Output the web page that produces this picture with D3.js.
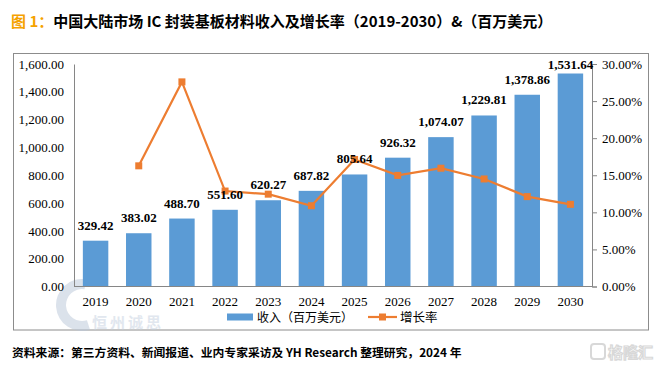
<!DOCTYPE html>
<html>
<head>
<meta charset="utf-8">
<script src="https://cdn.jsdelivr.net/npm/d3@7/dist/d3.min.js"></script>
<style>
  html, body { margin: 0; padding: 0; background: #fff; }
  svg { display: block; }
</style>
</head>
<body>
<svg id="chart" width="664" height="368"></svg>
<script>
const years = ['2019','2020','2021','2022','2023','2024','2025','2026','2027','2028','2029','2030'];
const revenue = [329.42, 383.02, 488.70, 551.60, 620.27, 687.82, 805.64, 926.32, 1074.07, 1229.81, 1378.86, 1531.64];
const growth = [null, 16.27, 27.59, 12.87, 12.45, 10.89, 17.13, 14.98, 15.95, 14.50, 12.12, 11.08];
const leftTicks = [0, 200, 400, 600, 800, 1000, 1200, 1400, 1600];
const rightTicks = [0, 5, 10, 15, 20, 25, 30];
const seriesNames = ['收入（百万美元）', '增长率'];

const svg = d3.select('#chart');
const serif = '"Liberation Serif", "Times New Roman", serif';
const cjk = '"Noto Sans CJK SC", sans-serif';
const blue = '#5B9BD5', orange = '#ED7D31', axisCol = '#868686';

// title
const title = svg.append('text').attr('x', 11).attr('y', 27)
  .attr('font-family', cjk).attr('font-size', 15).attr('font-weight', 700);
title.append('tspan').attr('fill', '#F5A200').text('图 1：');
title.append('tspan').attr('fill', '#000').text('中国大陆市场 IC 封装基板材料收入及增长率（2019-2030）&（百万美元）');

// frame
svg.append('rect').attr('x', 13.5).attr('y', 53.5).attr('width', 635).attr('height', 276.5)
  .attr('fill', 'none').attr('stroke', '#8c8c8c').attr('stroke-width', 1);

// watermark (left)
const wm = svg.append('g').attr('opacity', 0.5);
wm.append('path').attr('d', d3.arc()({innerRadius: 16, outerRadius: 26, startAngle: Math.PI * 0.9, endAngle: Math.PI * 2.05}))
  .attr('transform', 'translate(82,305)').attr('fill', '#b9c6d9');
wm.append('text').attr('x', 92).attr('y', 328).attr('font-family', cjk).attr('font-size', 15)
  .attr('font-weight', 700).attr('fill', '#c5d0e0').attr('letter-spacing', 3).text('恒州诚思');

const x = d3.scaleBand().domain(years).range([74, 592]).paddingInner(0.41).paddingOuter(0.205);
const yL = d3.scaleLinear().domain([0, 1600]).range([286.5, 64]);
const yR = d3.scaleLinear().domain([0, 30]).range([286.5, 64]);

// bars
svg.append('g').selectAll('rect').data(years).join('rect')
  .attr('x', d => x(d)).attr('width', x.bandwidth())
  .attr('y', (d, i) => yL(revenue[i])).attr('height', (d, i) => yL(0) - yL(revenue[i]))
  .attr('fill', blue);

// axes
const gl = svg.append('g').attr('transform', 'translate(74,0)')
  .call(d3.axisLeft(yL).tickValues(leftTicks).tickSize(0).tickPadding(10).tickFormat(d3.format(',.2f')));
const gr = svg.append('g').attr('transform', 'translate(592,0)')
  .call(d3.axisRight(yR).tickValues(rightTicks).tickSize(5).tickPadding(5).tickFormat(d => d.toFixed(2) + '%'));
const gb = svg.append('g').attr('transform', 'translate(0,286.5)')
  .call(d3.axisBottom(x).tickSize(0).tickPadding(10));
[gl, gr, gb].forEach(g => {
  g.selectAll('path.domain').attr('stroke', axisCol);
  g.selectAll('.tick line').attr('stroke', axisCol);
  g.selectAll('text').attr('font-family', serif).attr('font-size', 13).attr('fill', '#000');
});
gb.select('path.domain').attr('d', 'M74,0H592');

// line
const pts = years.map((d, i) => ({ year: d, v: growth[i] })).filter(p => p.v != null);
svg.append('path').datum(pts)
  .attr('d', d3.line().x(p => x(p.year) + x.bandwidth() / 2).y(p => yR(p.v)))
  .attr('fill', 'none').attr('stroke', orange).attr('stroke-width', 2.2);
svg.append('g').selectAll('rect').data(pts).join('rect')
  .attr('x', p => x(p.year) + x.bandwidth() / 2 - 3.5).attr('y', p => yR(p.v) - 3.5)
  .attr('width', 7).attr('height', 7).attr('fill', orange);

// data labels
svg.append('g').selectAll('text').data(years).join('text')
  .attr('x', d => x(d) + x.bandwidth() / 2)
  .attr('y', (d, i) => Math.max(yL(revenue[i]) - 11, 69))
  .attr('text-anchor', 'middle').attr('font-family', serif).attr('font-size', 13)
  .attr('font-weight', 700).attr('fill', '#000')
  .text((d, i) => d3.format(',.2f')(revenue[i]));

// legend
const lg = svg.append('g');
lg.append('rect').attr('x', 227).attr('y', 313.5).attr('width', 26).attr('height', 7).attr('fill', blue);
lg.append('text').attr('x', 257).attr('y', 322).attr('font-family', cjk).attr('font-size', 12)
  .attr('fill', '#000').text(seriesNames[0]);
lg.append('line').attr('x1', 368).attr('x2', 397).attr('y1', 317).attr('y2', 317)
  .attr('stroke', orange).attr('stroke-width', 2.2);
lg.append('rect').attr('x', 379).attr('y', 313.5).attr('width', 7).attr('height', 7).attr('fill', orange);
lg.append('text').attr('x', 400).attr('y', 322).attr('font-family', cjk).attr('font-size', 12.5)
  .attr('fill', '#000').text(seriesNames[1]);

// source
svg.append('text').attr('x', 12).attr('y', 357).attr('font-family', cjk).attr('font-size', 11.8)
  .attr('font-weight', 700).attr('fill', '#000')
  .text('资料来源：第三方资料、新闻报道、业内专家采访及 YH Research 整理研究，2024 年');

// watermark (right)
const wr = svg.append('g').attr('opacity', 0.8);
wr.append('rect').attr('x', 591).attr('y', 344).attr('width', 14).attr('height', 15).attr('rx', 3)
  .attr('fill', 'none').attr('stroke', '#cfcfcf').attr('stroke-width', 2);
wr.append('text').attr('x', 608).attr('y', 358).attr('font-family', cjk).attr('font-size', 15)
  .attr('font-weight', 700).attr('fill', '#fff').attr('stroke', '#cfcfcf').attr('stroke-width', 1.2)
  .text('格隆汇');
</script>
</body>
</html>
